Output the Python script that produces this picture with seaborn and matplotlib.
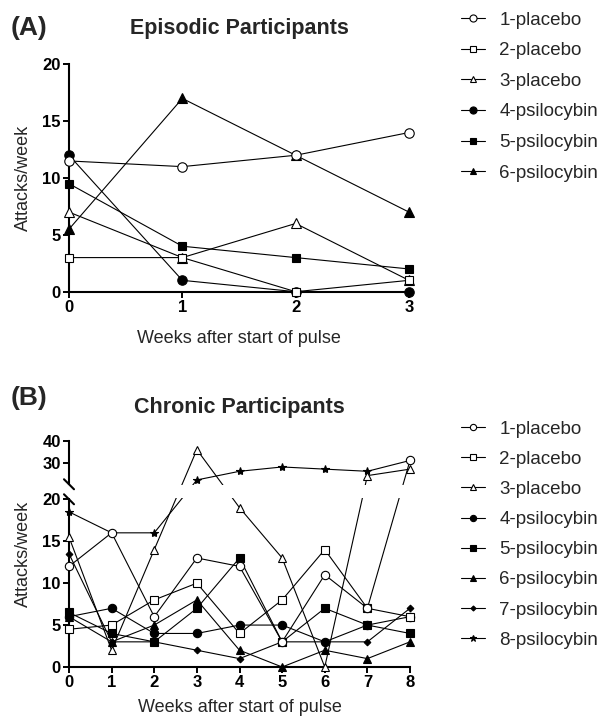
import numpy as np
import pandas as pd
import matplotlib
matplotlib.use("Agg")
import matplotlib.pyplot as plt
from matplotlib.patches import Rectangle
import seaborn as sns

sns.set_theme(style="ticks")
plt.rcParams["font.family"] = ["Liberation Sans", "DejaVu Sans"]

# ── Data ──────────────────────────────────────────────────────────────────────
weeks_a = [0, 1, 2, 3]
names_a = ["1-placebo", "2-placebo", "3-placebo",
           "4-psilocybin", "5-psilocybin", "6-psilocybin"]
attacks_a = [
    [11.5, 11, 12, 14],
    [3, 3, 0, 1],
    [7, 3, 6, 1],
    [12, 1, 0, 0],
    [9.5, 4, 3, 2],
    [5.5, 17, 12, 7],
]

weeks_b = [0, 1, 2, 3, 4, 5, 6, 7, 8]
names_b = ["1-placebo", "2-placebo", "3-placebo", "4-psilocybin",
           "5-psilocybin", "6-psilocybin", "7-psilocybin", "8-psilocybin"]
attacks_b = [
    [12, 16, 6, 13, 12, 3, 11, 7, 31],
    [4.5, 5, 8, 10, 4, 8, 14, 7, 6],
    [15.5, 2, 14, 36, 19, 13, 0, 24, 27],
    [6, 7, 4, 4, 5, 5, 3, 5, 6],
    [6.5, 4, 3, 7, 13, 3, 7, 5, 4],
    [6, 3, 5, 8, 2, 0, 2, 1, 3],
    [13.5, 3, 3, 2, 1, 3, 3, 3, 7],
    [18.5, 16, 16, 22, 26, 28, 27, 26, 31],
]

# marker, filled, size (A), size (B)
STYLES = [("o", False, 6.8, 6.0), ("s", False, 6.0, 5.6), ("^", False, 6.6, 6.2),
          ("o", True, 6.8, 6.0), ("s", True, 6.0, 5.6), ("^", True, 6.6, 6.2),
          ("D", True, 3.4, 3.4), ("*", True, 6.0, 6.0)]

# broken y axis for panel B: 0-20 full scale, 20-40 compressed above a gap
BREAK, GAP, K = 20.0, 1.79, 0.258


def fwd(y):
    y = np.asarray(y, dtype=float)
    return np.where(y <= BREAK, y, BREAK + GAP + (y - BREAK) * K)


def inv(v):
    v = np.asarray(v, dtype=float)
    return np.where(v <= BREAK, v,
                    np.where(v < BREAK + GAP, BREAK, BREAK + (v - BREAK - GAP) / K))


def long_df(weeks, names, values):
    rows = []
    for name, vals in zip(names, values):
        for w, v in zip(weeks, vals):
            rows.append({"participant": name, "week": w, "attacks": v})
    return pd.DataFrame(rows)


def draw_series(ax, df, names, panel):
    # first participant ends up on top where symbols coincide
    for i, name in enumerate(names):
        marker, filled, ms_a, ms_b = STYLES[i]
        sub = df[df["participant"] == name]
        sns.lineplot(data=sub, x="week", y="attacks", ax=ax, legend=False,
                     color="black", linewidth=0.8, marker=marker,
                     markersize=ms_a if panel == "A" else ms_b,
                     markerfacecolor="black" if filled else "white",
                     markeredgecolor="black", markeredgewidth=0.8,
                     label=name, clip_on=False, zorder=3.1 - 0.01 * i)


def style_axes(ax, xpad):
    for side in ["top", "right"]:
        ax.spines[side].set_visible(False)
    for side in ["left", "bottom"]:
        ax.spines[side].set_linewidth(1.5)
        ax.spines[side].set_color("black")
    ax.tick_params(direction="out", length=4, width=1.4, colors="black",
                   labelsize=12, pad=2)
    for lab in ax.get_xticklabels() + ax.get_yticklabels():
        lab.set_fontweight("bold")
    ax.set_xlabel("Weeks after start of pulse", fontsize=13, labelpad=xpad)
    ax.set_ylabel("Attacks/week", fontsize=13, labelpad=7)


def add_legend(ax, fig, y_top, spacing):
    handles, labels = ax.get_legend_handles_labels()
    ax.legend(handles, labels, loc="upper left",
              bbox_to_anchor=(461 / 601, y_top), bbox_transform=fig.transFigure,
              frameon=False, fontsize=13.5, handlelength=1.3, handletextpad=0.75,
              labelspacing=spacing, borderaxespad=0, borderpad=0, markerscale=0.75)


fig = plt.figure(figsize=(6.01, 7.21), dpi=100)

# ── Panel A ───────────────────────────────────────────────────────────────────
ax_a = fig.add_axes([69 / 601, 1 - 291.7 / 721, 340 / 601, 227.4 / 721])
df_a = long_df(weeks_a, names_a, attacks_a)
draw_series(ax_a, df_a, names_a, "A")
ax_a.set_xlim(0, 3)
ax_a.set_ylim(0, 20)
ax_a.set_xticks(weeks_a)
ax_a.set_yticks([0, 5, 10, 15, 20])
style_axes(ax_a, 11)
ax_a.text(0.5, 1 + 36 / 227.4, "Episodic Participants", transform=ax_a.transAxes,
          ha="center", va="center", fontsize=15.5, fontweight="bold")
add_legend(ax_a, fig, 1 - 11.5 / 721, 0.72)
fig.text(11 / 601, 1 - 28 / 721, "(A)", ha="left", va="center",
         fontsize=19, fontweight="bold")

# ── Panel B ───────────────────────────────────────────────────────────────────
ax_b = fig.add_axes([69 / 601, 1 - 667 / 721, 341 / 601, 226 / 721])
df_b = long_df(weeks_b, names_b, attacks_b)
draw_series(ax_b, df_b, names_b, "B")
ax_b.set_yscale("function", functions=(fwd, inv))
ax_b.set_xlim(0, 8)
ax_b.set_ylim(0, 40)
ax_b.set_xticks(weeks_b)
ax_b.set_yticks([0, 5, 10, 15, 20, 30, 40])
ax_b.set_yticklabels(["0", "5", "10", "15", "20", "30", "40"])
style_axes(ax_b, 6)

# blank out the gap between the two y segments, then draw break marks
lo = float(fwd(BREAK) / fwd(40))
hi = float(fwd(BREAK + 1e-6) / fwd(40))
ax_b.add_patch(Rectangle((-0.008, lo + 0.004), 1.03, hi - lo - 0.008,
                         transform=ax_b.transAxes, facecolor="white",
                         edgecolor="none", zorder=3.5, clip_on=False))
dx, dy = 5 / 341, 5 / 226
for yc in (lo, hi):
    ax_b.plot([-dx, dx], [yc + dy, yc - dy], transform=ax_b.transAxes,
              color="black", linewidth=1.5, clip_on=False, zorder=4)

ax_b.text(0.5, 1 + 33 / 226, "Chronic Participants", transform=ax_b.transAxes,
          ha="center", va="center", fontsize=15.5, fontweight="bold")
add_legend(ax_b, fig, 1 - 420.5 / 721, 0.695)
fig.text(11 / 601, 1 - 398 / 721, "(B)", ha="left", va="center",
         fontsize=19, fontweight="bold")

fig.savefig("out.png", dpi=100)
